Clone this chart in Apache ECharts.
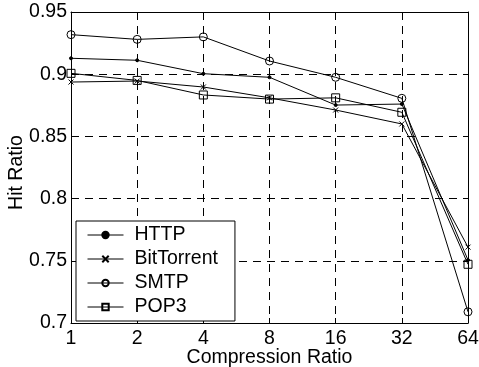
<!DOCTYPE html>
<html>
<head>
<meta charset="utf-8">
<script src="https://cdn.jsdelivr.net/npm/echarts@6/dist/echarts.min.js"></script>
<style>html,body{margin:0;padding:0;background:#fff}#c{width:479px;height:367px}</style>
</head>
<body>
<div id="c"></div>
<script>
var categories = ['1', '2', '4', '8', '16', '32', '64'];
var httpValues = [0.9128, 0.9112, 0.9004, 0.8975, 0.8752, 0.8760, 0.7506];
var bitTorrentValues = [0.8937, 0.8945, 0.8897, 0.8810, 0.8712, 0.8600, 0.7610];
var smtpValues = [0.9318, 0.9280, 0.9300, 0.9106, 0.8975, 0.8806, 0.7090];
var pop3Values = [0.9007, 0.8950, 0.8833, 0.8800, 0.8810, 0.8694, 0.7472];
var yTicks = { min: 0.7, max: 0.95, interval: 0.05 };

var FONT = 'Liberation Sans, Arial, sans-serif';
var FS = 19.5;
var chart = echarts.init(document.getElementById('c'), null, { renderer: 'canvas' });

function mkSeries(name, data, symbol, size, hollow) {
  return {
    name: name, type: 'line', data: data, symbol: symbol, symbolSize: size,
    showSymbol: true,
    lineStyle: { color: '#000', width: 1, type: 'solid' },
    itemStyle: { color: hollow ? 'rgba(255,255,255,0)' : '#000', borderColor: '#000', borderWidth: 1 },
    emphasis: { disabled: true },
    animation: false,
    z: 3
  };
}

var axisLine = { show: true, lineStyle: { color: '#000', width: 1 } };
var gridDash = { show: true, lineStyle: { color: '#000', width: 1, type: [8, 6] } };

chart.setOption({
  animation: false,
  backgroundColor: '#fff',
  textStyle: { fontFamily: FONT },
  grid: { left: 71, right: 11, top: 12, bottom: 44, containLabel: false, outerBoundsMode: 'none' },
  legend: {
    orient: 'vertical', left: 76, top: 221,
    padding: [4, 17, 4, 11],
    itemWidth: 36, itemHeight: 8, itemGap: 4,
    borderColor: '#000', borderWidth: 1, backgroundColor: '#fff',
    lineStyle: { type: 'solid', width: 1, color: '#000' },
    textStyle: { fontFamily: FONT, fontSize: FS, color: '#000', padding: [0, 0, 0, 6] },
    data: ['HTTP', 'BitTorrent', 'SMTP', 'POP3']
  },
  xAxis: [{
    type: 'category', data: categories, boundaryGap: false,
    name: 'Compression Ratio', nameLocation: 'middle', nameGap: 25, nameMoveOverlap: false,
    nameTextStyle: { fontFamily: FONT, fontSize: FS, color: '#000' },
    axisLine: axisLine,
    axisTick: { show: true, inside: true, length: 5, lineStyle: { color: '#000' } },
    axisLabel: { color: '#000', fontFamily: FONT, fontSize: FS, margin: 6 },
    splitLine: gridDash
  }, {
    type: 'category', data: categories, boundaryGap: false, position: 'top',
    axisLine: axisLine,
    axisTick: { show: true, inside: true, length: 5, lineStyle: { color: '#000' } },
    axisLabel: { show: false }, splitLine: { show: false }
  }],
  yAxis: [{
    type: 'value', min: yTicks.min, max: yTicks.max, interval: yTicks.interval,
    name: 'Hit Ratio', nameLocation: 'middle', nameGap: 44, nameMoveOverlap: false,
    nameTextStyle: { fontFamily: FONT, fontSize: FS, color: '#000', padding: [0, 10, 0, 0] },
    axisLine: axisLine,
    axisTick: { show: true, inside: true, length: 5, lineStyle: { color: '#000' } },
    axisLabel: { color: '#000', fontFamily: FONT, fontSize: FS, margin: 4 },
    splitLine: gridDash
  }, {
    type: 'value', min: yTicks.min, max: yTicks.max, interval: yTicks.interval, position: 'right',
    axisLine: axisLine,
    axisTick: { show: true, inside: true, length: 5, lineStyle: { color: '#000' } },
    axisLabel: { show: false }, splitLine: { show: false }
  }],
  series: [
    mkSeries('HTTP', httpValues, 'circle', 3, false),
    mkSeries('BitTorrent', bitTorrentValues, 'path://M0,0L10,10M10,0L0,10', 5, false),
    mkSeries('SMTP', smtpValues, 'circle', 8, true),
    mkSeries('POP3', pop3Values, 'rect', 8, true)
  ]
});
</script>
</body>
</html>
